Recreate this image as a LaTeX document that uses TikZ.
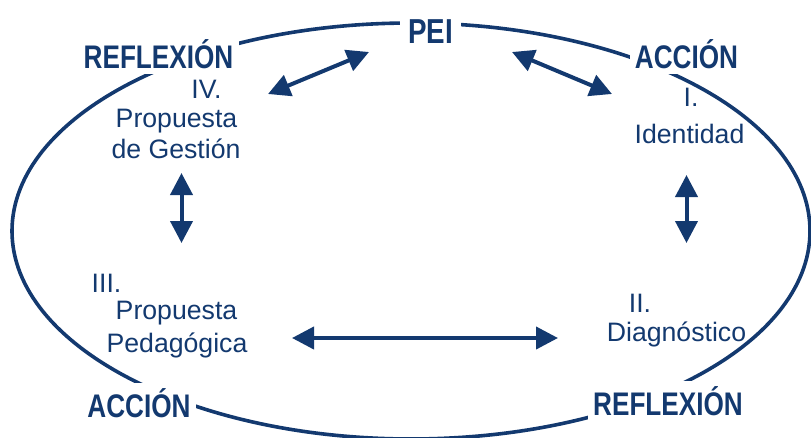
\documentclass[tikz,border=0pt]{standalone}
\usepackage{fontspec}
\setmainfont{Liberation Sans}
\newfontfamily\labelfont[FakeStretch=0.8]{Liberation Sans}
\usetikzlibrary{arrows.meta}
\definecolor{peiblue}{RGB}{19,57,111}

\begin{document}
\begin{tikzpicture}[
	x=0.75pt, y=-0.75pt,
	txt/.style={anchor=base, inner sep=0pt, text=peiblue, font=\fontsize{20}{24}\selectfont},
	phase/.style={anchor=base, inner sep=4pt, fill=white, text=peiblue, font=\labelfont\bfseries\fontsize{24.5}{28}\selectfont},
	connect/.style={{Triangle[length=16.5pt,width=16.5pt]}-{Triangle[length=16.5pt,width=16.5pt]}, line width=3pt, draw=peiblue},
	>=stealth
	]
	\useasboundingbox (0,0) rectangle (811,437);
	
	%-----------------------
	% Cycle ellipse
	%-----------------------
	\draw[peiblue, line width=2.7pt] (411,231) ellipse [x radius=399, y radius=208];
	
	%-----------------------
	% Labels on the ellipse
	%-----------------------
	\node[phase, inner sep=6pt, font=\labelfont\bfseries\fontsize{26}{30}\selectfont] (PEI) at (430.5,43) {PEI};
	\node[phase] (Refl-1) at (158.5,68) {REFLEXIÓN};
	\node[phase] (Acc-1)  at (686.5,68) {ACCIÓN};
	\node[phase] (Acc-2)  at (139,417)  {ACCIÓN};
	\node[phase] (Refl-2) at (668,415)  {REFLEXIÓN};
	
	%-----------------------
	% Stage texts
	%-----------------------
	\node[txt] (IV)    at (206.5,98) {IV.};
	\node[txt] (Gest1) at (176.5,127) {Propuesta};
	\node[txt] (Gest2) at (176,158) {de Gestión};
	
	\node[txt] (I)     at (691,106) {I.};
	\node[txt] (Ident) at (689.5,143) {Identidad};
	
	\node[txt] (III)   at (106.5,292) {III.};
	\node[txt] (Ped1)  at (176.5,319) {Propuesta};
	\node[txt] (Ped2)  at (177,352) {Pedagógica};
	
	\node[txt] (II)    at (640,312) {II.};
	\node[txt] (Diag)  at (676.5,341) {Diagnóstico};
	
	%-----------------------
	% Arrow ends
	%-----------------------
	\coordinate (gest-pei)  at (268,94);
	\coordinate (pei-gest)  at (369,52);
	\coordinate (pei-ident) at (512,52);
	\coordinate (ident-pei) at (612,94);
	\coordinate (gest-ped)  at (181.5,173);
	\coordinate (ped-gest)  at (181.5,243);
	\coordinate (ident-diag) at (686.5,175);
	\coordinate (diag-ident) at (686.5,243);
	\coordinate (ped-diag)  at (292,338);
	\coordinate (diag-ped)  at (558,338);
	
	%-----------------------
	% Connections
	%-----------------------
	\draw[connect] (gest-pei) -- (pei-gest);
	\draw[connect] (pei-ident) -- (ident-pei);
	\draw[connect] (gest-ped) -- (ped-gest);
	\draw[connect] (ident-diag) -- (diag-ident);
	\draw[connect] (ped-diag) -- (diag-ped);
	
\end{tikzpicture}
\end{document}
